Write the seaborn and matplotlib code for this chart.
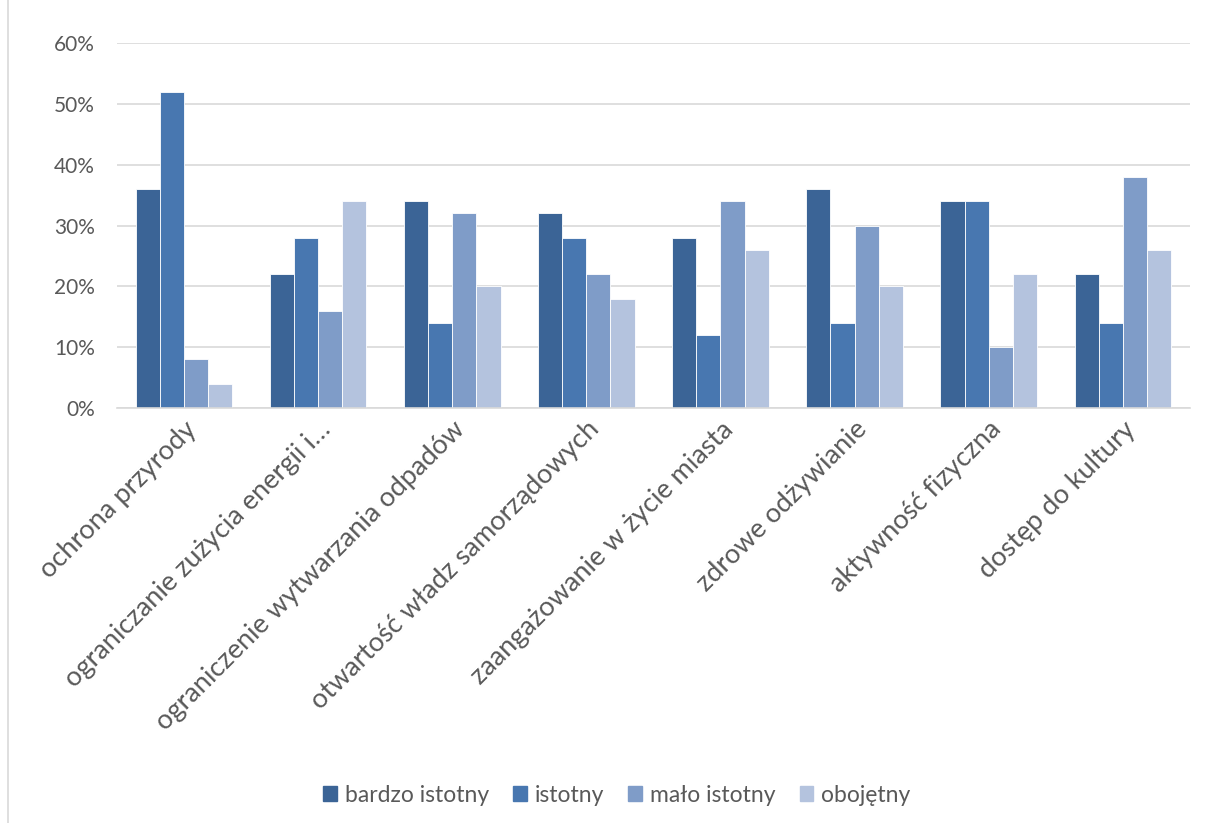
import pandas as pd
import numpy as np
import matplotlib.pyplot as plt
import seaborn as sns
from matplotlib.patches import Rectangle

# data
categories = ['ochrona przyrody', 'ograniczanie zużycia energii i…',
              'ograniczenie wytwarzania odpadów', 'otwartość władz samorządowych',
              'zaangażowanie w życie miasta', 'zdrowe odżywianie',
              'aktywność fizyczna', 'dostęp do kultury']
bardzo_istotny = [36, 22, 34, 32, 28, 36, 34, 22]
istotny = [52, 28, 14, 28, 12, 14, 34, 14]
malo_istotny = [8, 16, 32, 22, 34, 30, 10, 38]
obojetny = [4, 34, 20, 18, 26, 20, 22, 26]
series = ['bardzo istotny', 'istotny', 'mało istotny', 'obojętny']
colors = ['#3B6496', '#4877B0', '#7F9CC8', '#B4C3DE']

df = pd.DataFrame({'kategoria': categories * 4,
                   'seria': np.repeat(series, len(categories)),
                   'wartosc': bardzo_istotny + istotny + malo_istotny + obojetny})

sns.set_style('white')
plt.rcParams['font.family'] = ['Lato', 'DejaVu Sans']

fig = plt.figure(figsize=(12.05, 8.23), dpi=100)
ax = fig.add_axes([0.097, 0.504, 0.8905, 0.444])

sns.barplot(data=df, x='kategoria', y='wartosc', hue='seria', palette=colors,
            saturation=1, width=0.72, gap=0, edgecolor='white', linewidth=0.6, ax=ax)

ax.set_ylim(0, 60)
ax.set_yticks(range(0, 61, 10))
ax.set_yticklabels([f'{v}%' for v in range(0, 61, 10)], fontsize=15, color='#595959')
ax.grid(axis='y', color='#D9D9D9', linewidth=1.2)
ax.set_axisbelow(True)
ax.tick_params(axis='y', length=0, pad=16)
ax.tick_params(axis='x', length=0, pad=6)
ax.set_xlim(-0.5, len(categories) - 0.5)
ax.set_xticks(range(len(categories)))
ax.set_xticklabels(categories, rotation=45, ha='right', rotation_mode='anchor',
                   fontsize=19.5, color='#595959')
ax.set_xlabel('')
ax.set_ylabel('')
for s in ['top', 'right', 'left']:
    ax.spines[s].set_visible(False)
ax.spines['bottom'].set_color('#D9D9D9')
ax.spines['bottom'].set_linewidth(1.2)

ax.legend_.remove()
handles = [Rectangle((0, 0), 1, 1, color=c) for c in colors]
fig.legend(handles, series, loc='center', bbox_to_anchor=(0.512, 0.034), ncol=4,
           frameon=False, fontsize=16.5, labelcolor='#595959', handlelength=0.6,
           handleheight=0.6, handletextpad=0.35, columnspacing=1.05)

# outer frame of the chart area
fig.patches.append(Rectangle((0.007, -0.01), 1.0, 1.02, transform=fig.transFigure,
                             fill=False, edgecolor='#D9D9D9', linewidth=1.2))

fig.savefig('out.png', dpi=100)
